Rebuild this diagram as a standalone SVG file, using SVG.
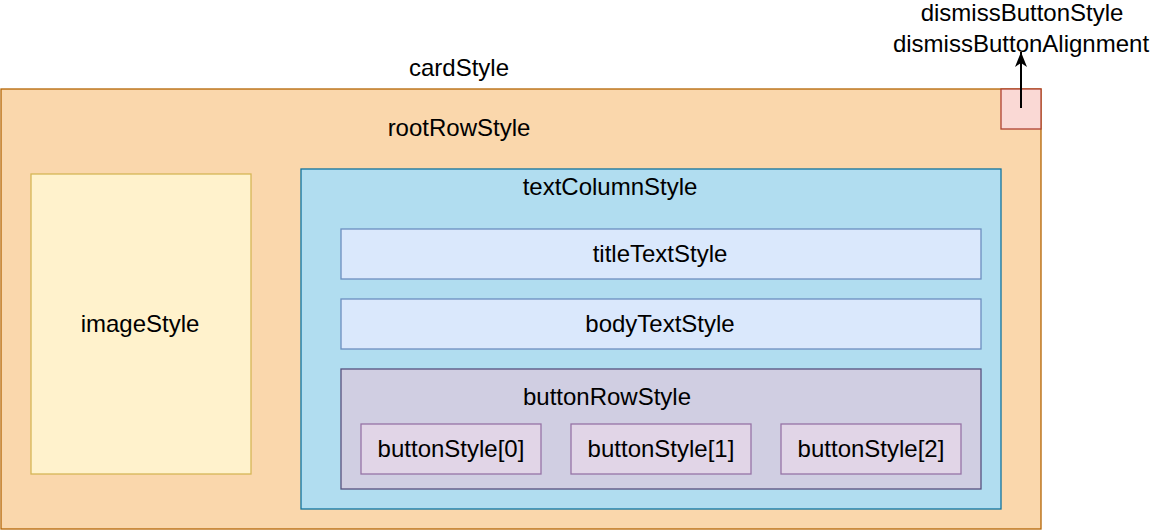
<svg xmlns="http://www.w3.org/2000/svg" width="1150" height="530" viewBox="0 0 1150 530">
<style>
text{font-family:"Liberation Sans",Arial,Helvetica,sans-serif;font-size:24px;fill:#000;text-anchor:middle}
rect{stroke-width:1.3}
.card{fill:#fad7ac;stroke:#b46504}
.dismiss{fill:#fad9d5;stroke:#ae4132}
.image{fill:#fff2cc;stroke:#d6b656}
.col{fill:#b1ddf0;stroke:#10739e}
.txt{fill:#dae8fc;stroke:#6c8ebf}
.row{fill:#d0cee2;stroke:#56517e}
.btn{fill:#e1d5e7;stroke:#9673a6}
</style>
<defs>
<marker id="arr" viewBox="0 0 16 14" refX="15" refY="7" markerWidth="16" markerHeight="14" markerUnits="userSpaceOnUse" orient="auto">
<path d="M0,1 L15,7 L0,13 L4,7 Z" fill="#000"/>
</marker>
</defs>
<g id="card">
<rect class="card" x="1" y="89" width="1040" height="440"/>
<text x="459" y="76">cardStyle</text>
<text x="459" y="136">rootRowStyle</text>
</g>
<g id="dismiss">
<rect class="dismiss" x="1001" y="89" width="40" height="40"/>
</g>
<g id="dismissLabel">
<text x="1022" y="21">dismissButtonStyle</text>
<text x="1021" y="52">dismissButtonAlignment</text>
</g>
<g id="image">
<rect class="image" x="31" y="174" width="220" height="300"/>
<text x="140" y="332">imageStyle</text>
</g>
<g id="textColumn">
<rect class="col" x="301" y="169" width="700" height="340"/>
<text x="610" y="195">textColumnStyle</text>
</g>
<g id="titleText">
<rect class="txt" x="341" y="229" width="640" height="50"/>
<text x="660" y="262">titleTextStyle</text>
</g>
<g id="bodyText">
<rect class="txt" x="341" y="299" width="640" height="50"/>
<text x="660" y="332">bodyTextStyle</text>
</g>
<g id="buttonRow">
<rect class="row" x="341" y="369" width="640" height="120"/>
<text x="607" y="405">buttonRowStyle</text>
</g>
<g id="button0">
<rect class="btn" x="361" y="424" width="180" height="50"/>
<text x="451" y="457">buttonStyle[0]</text>
</g>
<g id="button1">
<rect class="btn" x="571" y="424" width="180" height="50"/>
<text x="661" y="457">buttonStyle[1]</text>
</g>
<g id="button2">
<rect class="btn" x="781" y="424" width="180" height="50"/>
<text x="871" y="457">buttonStyle[2]</text>
</g>
<g id="connectors">
<line x1="1021" y1="108" x2="1021" y2="52" stroke="#000" stroke-width="2" marker-end="url(#arr)"/>
</g>
</svg>
